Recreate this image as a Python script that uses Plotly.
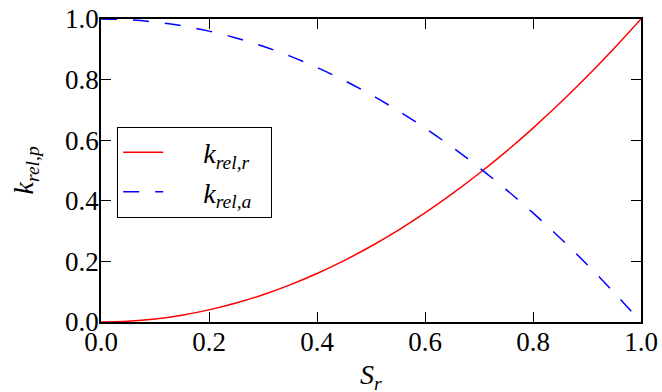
import plotly.graph_objects as go

# Saturation values
s_r = [0.0, 0.05, 0.1, 0.15, 0.2, 0.25, 0.3, 0.35, 0.4, 0.45, 0.5,
       0.55, 0.6, 0.65, 0.7, 0.75, 0.8, 0.85, 0.9, 0.95, 1.0]
k_rel_r = [0.0, 0.0025, 0.01, 0.0225, 0.04, 0.0625, 0.09, 0.1225, 0.16, 0.2025, 0.25,
           0.3025, 0.36, 0.4225, 0.49, 0.5625, 0.64, 0.7225, 0.81, 0.9025, 1.0]

s_a = [0.0, 0.05, 0.1, 0.15, 0.2, 0.25, 0.3, 0.35, 0.4, 0.45, 0.5,
       0.55, 0.6, 0.65, 0.7, 0.75, 0.8, 0.85, 0.9, 0.95, 0.99]
k_rel_a = [1.0, 0.9975, 0.99, 0.9775, 0.96, 0.9375, 0.91, 0.8775, 0.84, 0.7975, 0.75,
           0.6975, 0.64, 0.5775, 0.51, 0.4375, 0.36, 0.2775, 0.19, 0.0975, 0.02]

tick_vals = [0.0, 0.2, 0.4, 0.6, 0.8, 1.0]
tick_text = ["0.0", "0.2", "0.4", "0.6", "0.8", "1.0"]

FONT = "Times New Roman"
PAD = "&nbsp;" * 5
TAIL = "&nbsp;" * 2

fig = go.Figure()
fig.add_trace(go.Scatter(x=s_r, y=k_rel_r, mode="lines", line=dict(color="#ff0000", width=1.5, shape="spline"),
                         name=PAD + "<i>k</i><sub><i>rel,r</i></sub>" + TAIL))
fig.add_trace(go.Scatter(x=s_a, y=k_rel_a, mode="lines",
                         line=dict(color="#0000ff", width=1.5, dash="16px,16px", shape="spline"),
                         name=PAD + "<i>k</i><sub><i>rel,a</i></sub>" + TAIL))

axis_common = dict(range=[0, 1], tickvals=tick_vals, ticktext=tick_text, ticks="inside", ticklen=10,
                   tickcolor="black", tickwidth=1, showline=True, linecolor="black", linewidth=1.5,
                   mirror="ticks", showgrid=False, zeroline=False, automargin=False,
                   tickfont=dict(family=FONT, size=27, color="black"))

fig.update_xaxes(**axis_common, ticklabelstandoff=-5)
fig.update_yaxes(**axis_common, ticklabelstandoff=-5)

fig.add_annotation(text="<i>S</i><sub><i>r</i></sub>", xref="paper", yref="paper", x=0.5, y=-0.117,
                   xanchor="center", yanchor="top", showarrow=False,
                   font=dict(family=FONT, size=28, color="black"))
fig.add_annotation(text="<i>k</i><sub><i>rel,p</i></sub>", xref="paper", yref="paper", x=-0.139, y=0.5,
                   xanchor="center", yanchor="middle", showarrow=False, textangle=-90,
                   font=dict(family=FONT, size=28, color="black"))

fig.update_layout(
    width=662, height=392,
    margin=dict(l=101, r=21, t=19, b=70, autoexpand=False),
    plot_bgcolor="white", paper_bgcolor="white",
    font=dict(family=FONT, color="black"),
    showlegend=True,
    legend=dict(x=0.03, y=0.645, xanchor="left", yanchor="top",
                bordercolor="black", borderwidth=1, bgcolor="white",
                font=dict(family=FONT, size=28, color="black"),
                itemwidth=40, tracegroupgap=0),
)

fig.write_html("out.html", config={"displayModeBar": False},
               post_script="document.body.style.margin='0px';")
